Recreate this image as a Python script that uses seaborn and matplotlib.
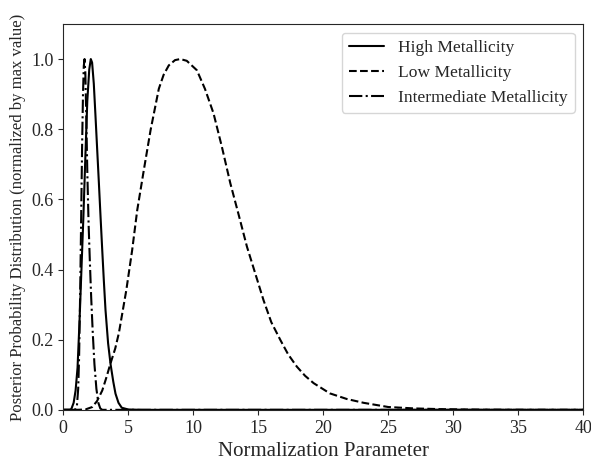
import matplotlib
matplotlib.use("Agg")
import matplotlib.pyplot as plt
import seaborn as sns
import pandas as pd

# values (normalized by max value)
high_x = [0, 0.5, 0.62, 0.8, 0.95, 1.1, 1.25, 1.4, 1.55, 1.7, 1.85, 2.0, 2.12, 2.22,
          2.35, 2.48, 2.6, 2.74, 2.87, 3.0, 3.12, 3.25, 3.45, 3.64, 3.85, 4.02, 4.25,
          4.5, 5.0, 6.0, 40]
high_y = [0, 0, 0.002, 0.02, 0.055, 0.12, 0.25, 0.4, 0.55, 0.72, 0.88, 0.97, 1.0, 0.99,
          0.93, 0.838, 0.75, 0.648, 0.55, 0.455, 0.37, 0.285, 0.19, 0.13, 0.08, 0.046, 0.02,
          0.006, 0.001, 0, 0]

low_x = [0, 1.0, 1.7, 2.23, 2.6, 3.0, 3.3, 3.64, 4.0, 4.28, 4.85, 5.3, 5.69, 6.2, 6.72,
         7.35, 7.72, 8.12, 8.6, 9.0, 9.5, 10.28, 10.9, 11.56, 12.2, 12.85, 13.5, 14.13,
         14.8, 15.4, 16.0, 16.7, 17.3, 17.97, 18.6, 19.26, 20.5, 21.8, 23.1, 25.0, 27.0,
         29.0, 32.0, 35.0, 40.0]
low_y = [0, 0, 0.001, 0.008, 0.025, 0.055, 0.09, 0.133, 0.175, 0.219, 0.341, 0.455, 0.569,
         0.684, 0.798, 0.915, 0.955, 0.982, 0.997, 1.0, 0.995, 0.968, 0.915, 0.845, 0.75,
         0.646, 0.555, 0.465, 0.385, 0.313, 0.25, 0.199, 0.158, 0.123, 0.097, 0.076, 0.047,
         0.031, 0.02, 0.008, 0.004, 0.002, 0.0005, 0.0001, 0]

mid_x = [0, 0.9, 1.05, 1.15, 1.22, 1.3, 1.38, 1.45, 1.52, 1.58, 1.64, 1.7, 1.77, 1.85,
         1.95, 2.05, 2.15, 2.27, 2.4, 2.55, 2.7, 2.85, 3.0, 40]
mid_y = [0, 0, 0.01, 0.06, 0.15, 0.33, 0.55, 0.75, 0.9, 0.98, 1.0, 0.96, 0.84, 0.68,
         0.53, 0.42, 0.32, 0.22, 0.13, 0.06, 0.02, 0.004, 0, 0]

series = [
    ('High Metallicity', high_x, high_y, '-'),
    ('Low Metallicity', low_x, low_y, '--'),
    ('Intermediate Metallicity', mid_x, mid_y, '-.'),
]

sns.set_style("ticks")
plt.rcParams['font.family'] = 'serif'
plt.rcParams['font.serif'] = ['Liberation Serif', 'DejaVu Serif']

fig, ax = plt.subplots(figsize=(5.91, 4.61), dpi=100)
fig.subplots_adjust(left=0.107, right=0.987, bottom=0.111, top=0.948)

for name, xs, ys, ls in series:
    df = pd.DataFrame({'x': xs, 'y': ys})
    sns.lineplot(data=df, x='x', y='y', ax=ax, color='black', linestyle=ls,
                 linewidth=1.5, label=name, sort=False)

ax.set_xlim(0, 40)
ax.set_ylim(0, 1.1)
ax.tick_params(labelsize=13)
ax.set_xlabel('Normalization Parameter', fontsize=15)
ax.set_ylabel('Posterior Probability Distribution (normalized by max value)', fontsize=12)
ax.legend(loc='upper right', fontsize=12.6)

plt.savefig('out.png', dpi=100)
